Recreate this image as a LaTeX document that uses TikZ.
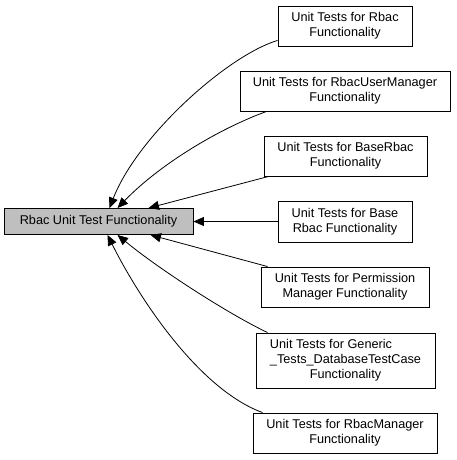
\documentclass[tikz,border=0pt]{standalone}
\usepackage{fontspec}
\setmainfont{Liberation Sans}
\usetikzlibrary{arrows.meta}
\definecolor{grpgray}{RGB}{191,191,191}
\tikzset{
  grp/.style={draw=black, line width=0.9pt, fill=white, align=center, inner sep=0pt,
    font=\fontsize{12.7}{15}\selectfont},
  maingrp/.style={grp, fill=grpgray},
  dep/.style={line width=0.8pt, {Triangle[length=10.5pt,width=9pt]}-}
}
\begin{document}
\begin{tikzpicture}[x=1pt,y=-1pt]
        \useasboundingbox (0,0) rectangle (456,460);
        \node[maingrp, minimum width=189pt, minimum height=26pt] (main) at (98.5,221.5) {Rbac Unit Test Functionality};
        \node[grp, minimum width=134pt, minimum height=40pt] (rbac) at (345,26) {Unit Tests for Rbac\\Functionality};
        \node[grp, minimum width=210pt, minimum height=40pt] (usermgr) at (345,91) {Unit Tests for RbacUserManager\\Functionality};
        \node[grp, minimum width=163pt, minimum height=40pt] (baserbac) at (345.5,156) {Unit Tests for BaseRbac\\Functionality};
        \node[grp, minimum width=134pt, minimum height=41pt] (base) at (345,221.5) {Unit Tests for Base\\Rbac Functionality};
        \node[grp, minimum width=168pt, minimum height=40pt] (perm) at (345,287) {Unit Tests for Permission\\Manager Functionality};
        \node[grp, minimum width=179pt, minimum height=55pt] (generic) at (345.5,360.5) {\makebox[0pt][l]{Unit Tests for Generic}\phantom{\_Tests\_DatabaseTestCase}\\\_Tests\_DatabaseTestCase\\Functionality};
        \node[grp, minimum width=184pt, minimum height=40pt] (rbacmgr) at (345,433) {Unit Tests for RbacManager\\Functionality};
        \draw[dep] ([xshift=11pt]main.north) .. controls +(28,-72) and +(-50,15) .. ([yshift=6pt]rbac.south west);
        \draw[dep] ([xshift=19pt]main.north) .. controls +(42.5,-44) and +(-47,17) .. ([xshift=27pt]usermgr.south west);
        \draw[dep] ([xshift=50pt]main.north) -- ([xshift=5pt]baserbac.south west);
        \draw[dep] (main.east) -- (base.west);
        \draw[dep] ([xshift=52pt]main.south) -- ([xshift=7pt]perm.north west);
        \draw[dep] ([xshift=19pt]main.south) .. controls +(42.5,35) and +(-38,-18) .. ([xshift=12pt]generic.north west);
        \draw[dep] ([xshift=9pt]main.south) .. controls +(32.5,65) and +(-63,-23) .. ([xshift=10pt]rbacmgr.north west);
\end{tikzpicture}
\end{document}
